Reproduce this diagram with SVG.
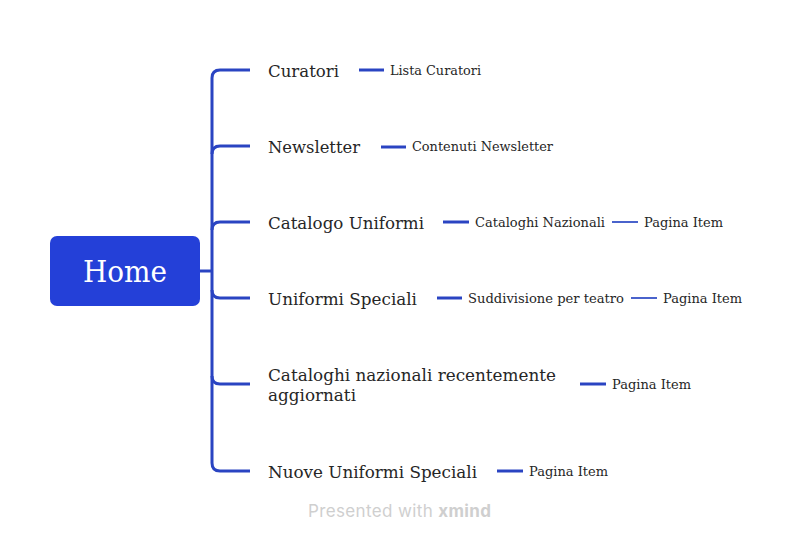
<svg xmlns="http://www.w3.org/2000/svg" width="799" height="542" viewBox="0 0 799 542">
<style>
.main{font-family:"DejaVu Serif","Liberation Serif",serif;font-size:17.5px;fill:#262626}
.sub{font-family:"DejaVu Serif","Liberation Serif",serif;font-size:13px;fill:#262626}
.conn{fill:none;stroke:#2A44C2;stroke-width:3;stroke-linecap:butt}
.conn2{fill:none;stroke:#4A63CC;stroke-width:2}
</style>
<rect width="799" height="542" fill="#ffffff"/>
<g id="connectors">
<path class="conn" d="M200 271 H212"/>
<path class="conn" d="M250 70 H220 Q212 70 212 78 V463 Q212 471 220 471 H250"/>
<path class="conn" d="M212 154 Q212 146 220 146 H250"/>
<path class="conn" d="M212 230 Q212 222 220 222 H250"/>
<path class="conn" d="M212 290 Q212 298 220 298 H250"/>
<path class="conn" d="M212 376 Q212 384 220 384 H250"/>
<path class="conn" d="M359 70 H384"/>
<path class="conn" d="M381 147 H406"/>
<path class="conn" d="M443 222 H469"/>
<path class="conn2" d="M612 222 H638"/>
<path class="conn" d="M437 298 H462"/>
<path class="conn2" d="M631 298 H657"/>
<path class="conn" d="M580 384 H606"/>
<path class="conn" d="M497 471 H523"/>
</g>
<g id="home">
<rect x="50" y="236" width="150" height="70" rx="7" fill="#2440D8"/>
<text x="125" y="282" text-anchor="middle" font-family="DejaVu Serif, Liberation Serif, serif" font-size="29" fill="#ffffff" textLength="84" lengthAdjust="spacingAndGlyphs">Home</text>
</g>
<g id="curatori"><text class="main" x="268" y="77" textLength="71" lengthAdjust="spacingAndGlyphs">Curatori</text></g>
<g id="lista-curatori"><text class="sub" x="390" y="75" textLength="91" lengthAdjust="spacingAndGlyphs">Lista Curatori</text></g>
<g id="newsletter"><text class="main" x="268" y="153" textLength="92" lengthAdjust="spacingAndGlyphs">Newsletter</text></g>
<g id="contenuti-newsletter"><text class="sub" x="412" y="151" textLength="141" lengthAdjust="spacingAndGlyphs">Contenuti Newsletter</text></g>
<g id="catalogo-uniformi"><text class="main" x="268" y="229" textLength="156" lengthAdjust="spacingAndGlyphs">Catalogo Uniformi</text></g>
<g id="cataloghi-nazionali"><text class="sub" x="475" y="227" textLength="130" lengthAdjust="spacingAndGlyphs">Cataloghi Nazionali</text></g>
<g id="pagina-item-1"><text class="sub" x="644" y="227" textLength="79" lengthAdjust="spacingAndGlyphs">Pagina Item</text></g>
<g id="uniformi-speciali"><text class="main" x="268" y="305" textLength="149" lengthAdjust="spacingAndGlyphs">Uniformi Speciali</text></g>
<g id="suddivisione"><text class="sub" x="468" y="303" textLength="156" lengthAdjust="spacingAndGlyphs">Suddivisione per teatro</text></g>
<g id="pagina-item-2"><text class="sub" x="663" y="303" textLength="79" lengthAdjust="spacingAndGlyphs">Pagina Item</text></g>
<g id="cataloghi-recenti"><text class="main" x="268" y="381" textLength="288" lengthAdjust="spacingAndGlyphs">Cataloghi nazionali recentemente</text><text class="main" x="268" y="401" textLength="88" lengthAdjust="spacingAndGlyphs">aggiornati</text></g>
<g id="pagina-item-3"><text class="sub" x="612" y="389" textLength="79" lengthAdjust="spacingAndGlyphs">Pagina Item</text></g>
<g id="nuove-uniformi"><text class="main" x="268" y="478" textLength="209" lengthAdjust="spacingAndGlyphs">Nuove Uniformi Speciali</text></g>
<g id="pagina-item-4"><text class="sub" x="529" y="476" textLength="79" lengthAdjust="spacingAndGlyphs">Pagina Item</text></g>
<text x="308" y="517" font-family="Inter, Roboto, sans-serif" font-size="17" fill="#CFCFCF" textLength="183">Presented with <tspan font-weight="700">xmind</tspan></text>
</svg>
